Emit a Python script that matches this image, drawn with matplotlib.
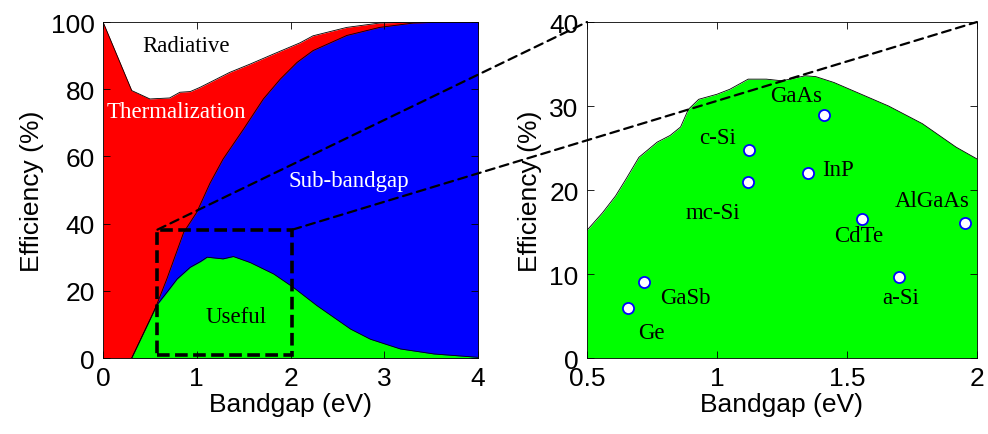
import numpy as np
import matplotlib
matplotlib.use('Agg')
import matplotlib.pyplot as plt
from matplotlib.patches import Rectangle, ConnectionPatch

# ---- left panel: stacked loss boundaries (cumulative %) ----
red_x = [0.0, 0.306, 0.5, 0.71, 0.82, 0.93, 1.03, 1.18, 1.35, 1.57, 1.82, 2.1, 2.24, 2.6, 2.95, 3.3, 4.0]
red_y = [100, 79.6, 77.1, 77.4, 79.1, 79.3, 80.5, 82.6, 85.0, 87.5, 90.5, 93.8, 95.9, 98.4, 99.7, 100, 100]

blue_x = [0.306, 0.54, 0.68, 0.86, 1.0, 1.14, 1.28, 1.5, 1.71, 1.89, 2.07, 2.24, 2.6, 2.95, 3.31, 3.66, 4.0]
blue_y = [0, 13.6, 23.5, 37.4, 43.4, 52.0, 59.2, 68.2, 77.1, 83.0, 88.0, 91.5, 96.0, 98.4, 99.7, 100, 100]

green_x = [0.306, 0.45, 0.57, 0.68, 0.79, 0.93, 1.04, 1.11, 1.28, 1.39, 1.57, 1.82, 2.03, 2.28,
           2.64, 2.85, 3.17, 3.53, 4.0]
green_y = [0, 8.5, 15.6, 19.5, 23.5, 27.0, 28.7, 30.0, 29.5, 30.2, 28.4, 25.0, 21.0, 15.6,
           8.6, 5.6, 2.7, 1.2, 0.2]

# ---- right panel: SQ limit zoom + measured cells ----
sq_x = [0.5, 0.56, 0.61, 0.65, 0.70, 0.77, 0.82, 0.86, 0.89, 0.93, 1.0, 1.05, 1.12, 1.19,
        1.25, 1.34, 1.38, 1.45, 1.54, 1.66, 1.79, 1.92, 2.0]
sq_y = [15.2, 17.3, 19.3, 21.3, 23.9, 25.7, 26.5, 27.5, 29.6, 30.8, 31.4, 32.0, 33.2, 33.2,
        33.0, 33.6, 33.5, 32.8, 31.6, 30.0, 27.9, 25.1, 23.7]

cells = ['Ge', 'GaSb', 'c-Si', 'mc-Si', 'InP', 'GaAs', 'CdTe', 'a-Si', 'AlGaAs']
cell_eg = [0.656, 0.718, 1.122, 1.119, 1.35, 1.413, 1.559, 1.70, 1.954]
cell_eff = [5.9, 9.1, 24.8, 21.0, 22.0, 28.9, 16.6, 9.7, 16.1]
# label anchor (x, y, ha)
cell_lbl = [(0.695, 3.05, 'left'), (0.783, 7.2, 'left'), (1.074, 26.3, 'right'),
            (1.09, 17.3, 'right'), (1.404, 22.4, 'left'), (1.206, 31.2, 'left'),
            (1.45, 14.6, 'left'), (1.636, 7.2, 'left'), (1.683, 18.7, 'left')]

left_xticks = [0, 1, 2, 3, 4]
left_yticks = [0, 20, 40, 60, 80, 100]
right_xticks = [0.5, 1, 1.5, 2]
right_xticklabels = ['0.5', '1', '1.5', '2']
right_yticks = [0, 10, 20, 30, 40]

SANS = ['Liberation Sans', 'DejaVu Sans']
SERIF = ['Liberation Serif', 'DejaVu Serif']
plt.rcParams['font.family'] = SANS

fig = plt.figure(figsize=(9.88, 4.35), dpi=100)
ax1 = fig.add_axes([0.1043, 0.1747, 0.3796, 0.7724])
ax2 = fig.add_axes([0.5941, 0.1747, 0.3947, 0.7724])

# ---- left ----
ax1.fill_between(red_x, red_y, 0, color='#ff0000', lw=0)
ax1.plot(red_x, red_y, color='k', lw=0.6)
ax1.fill_between(blue_x, blue_y, 0, color='#0000ff', lw=0)
ax1.plot(blue_x, blue_y, color='k', lw=0.6)
ax1.fill_between(green_x, green_y, 0, color='#00ff00', lw=0)
ax1.plot(green_x, green_y, color='k', lw=0.6)

ax1.text(0.416, 92.9, 'Radiative', family=SERIF, fontsize=16.5, color='k', va='center')
ax1.text(0.043, 73.3, 'Thermalization', family=SERIF, fontsize=16.5, color='white', va='center')
ax1.text(1.98, 52.7, 'Sub-bandgap', family=SERIF, fontsize=16.5, color='white', va='center')
ax1.text(1.09, 12.4, 'Useful', family=SERIF, fontsize=16.5, color='k', va='center')

ax1.add_patch(Rectangle((0.58, 0.8), 1.44, 37.4, fill=False, ec='k', lw=2.6,
                        ls=(0, (3.5, 1.5)), zorder=5))

ax1.set_xlim(0, 4)
ax1.set_ylim(0, 100)
ax1.set_xticks(left_xticks)
ax1.set_yticks(left_yticks)
ax1.set_xlabel('Bandgap (eV)', fontsize=19, labelpad=1)
ax1.set_ylabel('Efficiency (%)', fontsize=19, labelpad=5)

# ---- right ----
ax2.fill_between(sq_x, sq_y, 0, color='#00ff00', lw=0)
ax2.plot(sq_x, sq_y, color='k', lw=0.6)
ax2.plot(cell_eg, cell_eff, 'o', ms=8, mfc='white', mec='#0000ff', mew=1.3, zorder=4)
for name, (lx, ly, ha) in zip(cells, cell_lbl):
    ax2.text(lx, ly, name, family=SERIF, fontsize=16.5, ha=ha, va='center')

ax2.set_xlim(0.5, 2)
ax2.set_ylim(0, 40)
ax2.set_xticks(right_xticks)
ax2.set_xticklabels(right_xticklabels)
ax2.set_yticks(right_yticks)
ax2.set_xlabel('Bandgap (eV)', fontsize=19, labelpad=1)
ax2.set_ylabel('Efficiency (%)', fontsize=19, labelpad=5)

for ax in (ax1, ax2):
    ax.tick_params(direction='in', top=True, right=True, length=5, width=0.6,
                   labelsize=19, pad=6)
    for s in ax.spines.values():
        s.set_linewidth(0.6)

# ---- zoom connectors ----
for (xa, ya), (xb, yb) in [((0.58, 38.2), (0.5, 40)), ((2.02, 38.2), (2.0, 40))]:
    con = ConnectionPatch(xyA=(xa, ya), coordsA=ax1.transData,
                          xyB=(xb, yb), coordsB=ax2.transData,
                          color='k', lw=1.6, ls=(0, (4, 2.5)), zorder=3)
    fig.add_artist(con)

fig.savefig('out.png', dpi=100)
